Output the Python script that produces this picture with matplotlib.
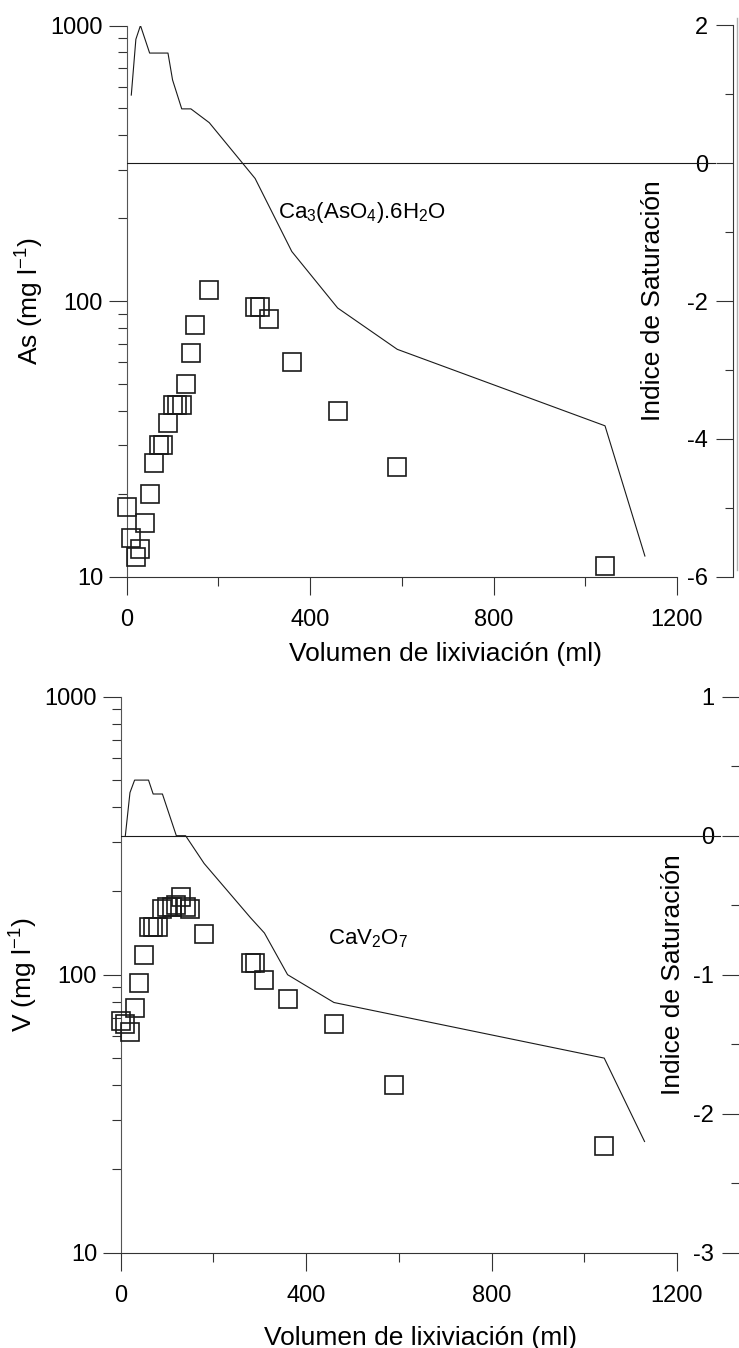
import matplotlib.pyplot as plt
from matplotlib.lines import Line2D
from matplotlib.ticker import FixedLocator, LogLocator, MultipleLocator, NullFormatter

plt.rcParams['font.family'] = ['Liberation Sans', 'DejaVu Sans']
plt.rcParams['mathtext.fontset'] = 'custom'
plt.rcParams['mathtext.rm'] = 'Liberation Sans'
plt.rcParams['mathtext.it'] = 'Liberation Sans:italic'
plt.rcParams['mathtext.bf'] = 'Liberation Sans:bold'
plt.rcParams['axes.unicode_minus'] = False

# leaching volume of each collected sample (ml)
volume = [0, 10, 20, 30, 40, 50, 60, 70, 80, 90, 100, 110, 120, 130, 140, 150,
          180, 280, 290, 310, 360, 460, 590, 1043]

# dissolved concentrations (mg/l)
arsenic = [17.9, 13.8, 11.8, 12.6, 15.6, 20.0, 25.9, 30.0, 30.0, 36.0, 42.0, 42.0,
           42.0, 50.0, 65.0, 81.7, 110, 95, 95, 86.3, 60, 40, 25, 10.9]
vanadium = [68, 66.5, 62, 76, 93, 118, 148, 148, 148, 172, 175, 175, 178, 190, 175,
            173, 140, 110, 110, 96, 82, 66.5, 40, 24.1]

# saturation index of the controlling phases
si_vol_as = [10, 20, 30, 50, 90, 100, 120, 140, 180, 280, 360, 460, 590, 1043, 1130]
si_as = [0.99, 1.80, 2.00, 1.60, 1.60, 1.21, 0.79, 0.79, 0.59, -0.22, -1.28, -2.10,
         -2.70, -3.81, -5.70]
si_vol_v = [10, 20, 30, 60, 70, 90, 120, 140, 180, 280, 310, 360, 460, 1043, 1130]
si_v = [0.0, 0.31, 0.40, 0.40, 0.30, 0.30, 0.0, 0.0, -0.20, -0.59, -0.70, -1.0,
        -1.20, -1.60, -2.20]

W, H = 739, 1348
TICK_FS = 17
LABEL_FS = 19
INK = '#1a1a1a'

fig = plt.figure(figsize=(W / 100, H / 100), dpi=100)


def make_panel(left, right, top, bottom, x1200, conc, ylabel, si_x, si_y, si_lim,
               si_minor, mineral, mineral_xy, ylabel_pad, si_pad, xlabel_xy):
    ax = fig.add_axes([left / W, 1 - bottom / H, (right - left) / W, (bottom - top) / H])
    ax.set_xlim(0, 1200 * (right - left) / (x1200 - left))
    ax.set_yscale('log')
    ax.set_ylim(10, 1000)
    ax.patch.set_visible(False)

    for side in ['top', 'right']:
        ax.spines[side].set_visible(False)
    ax.spines['bottom'].set_bounds(0, 1200)
    ax.spines['left'].set_color('#555555')
    ax.spines['bottom'].set_color('#333333')
    for side in ['left', 'bottom']:
        ax.spines[side].set_linewidth(0.8)

    ax.xaxis.set_major_locator(FixedLocator([0, 400, 800, 1200]))
    ax.xaxis.set_minor_locator(FixedLocator([200, 600, 1000]))
    ax.yaxis.set_major_locator(LogLocator(base=10))
    ax.yaxis.set_minor_locator(LogLocator(base=10, subs=range(2, 10)))
    ax.yaxis.set_minor_formatter(NullFormatter())
    ax.set_yticks([10, 100, 1000])
    ax.set_yticklabels(['10', '100', '1000'])
    ax.tick_params(which='major', length=13, width=0.8, color='#333333',
                   labelsize=TICK_FS, pad=4)
    ax.tick_params(which='minor', length=6.5, width=0.8, color='#333333')
    ax.tick_params(axis='x', which='major', pad=10)

    ax.plot(volume, conc, linestyle='none', marker='s', markersize=12.5,
            markerfacecolor='none', markeredgecolor=INK, markeredgewidth=1.2,
            clip_on=False, zorder=3)

    ax.set_ylabel(ylabel, fontsize=LABEL_FS, labelpad=ylabel_pad)
    ax.set_xlabel('Volumen de lixiviación (ml)', fontsize=LABEL_FS)
    ax.xaxis.set_label_coords(*xlabel_xy)

    # saturation index axis, ticks drawn inward at the right edge
    ax2 = ax.twinx()
    ax2.set_ylim(*si_lim)
    for side in ['top', 'right', 'bottom']:
        ax2.spines[side].set_visible(False)
    ax2.spines['left'].set_position(('axes', 1.0))
    ax2.spines['left'].set_linewidth(0.8)
    ax2.spines['left'].set_color('#333333')
    ax2.yaxis.tick_left()
    ax2.yaxis.set_label_position('left')
    ax2.yaxis.set_major_locator(MultipleLocator(si_minor * 2))
    ax2.yaxis.set_minor_locator(MultipleLocator(si_minor))
    ax2.tick_params(which='major', length=12, width=0.8, color='#333333',
                    labelsize=TICK_FS, pad=6)
    ax2.tick_params(which='minor', length=6, width=0.8, color='#333333')
    ax2.set_ylabel('Indice de Saturación', fontsize=LABEL_FS, labelpad=si_pad)

    ax2.axhline(0, xmin=0, xmax=0.97, color=INK, linewidth=0.8)
    ax2.plot(si_x, si_y, color=INK, linewidth=0.8)
    ax2.text(mineral_xy[0], mineral_xy[1], mineral, fontsize=16, va='center', ha='left')
    return ax, ax2


top_ax, top_si = make_panel(126.7, 733, 25.5, 576.7, 677, arsenic,
                            r'As (mg l$^{\mathregular{-1}}$)',
                            si_vol_as, si_as, (-6, 2), 1.0,
                            r'Ca$_{\mathregular{3}}$(AsO$_{\mathregular{4}}$).6H$_{\mathregular{2}}$O',
                            (330, -0.72), 3, 16, (0.525, -0.119))

bot_ax, bot_si = make_panel(120.7, 739, 696.7, 1252.7, 677, vanadium,
                            r'V (mg l$^{\mathregular{-1}}$)',
                            si_vol_v, si_v, (-3, 1), 0.5,
                            r'CaV$_{\mathregular{2}}$O$_{\mathregular{7}}$',
                            (447, -0.74), 3, 6, (0.485, -0.131))
bot_si.spines['left'].set_visible(False)

# outer frame edge beside the upper saturation axis
fig.add_artist(Line2D([737 / W, 737 / W], [1 - 18 / H, 1 - 570 / H],
                      transform=fig.transFigure, color='#b0b0b0', linewidth=1.0))

fig.savefig('out.png', dpi=100)
